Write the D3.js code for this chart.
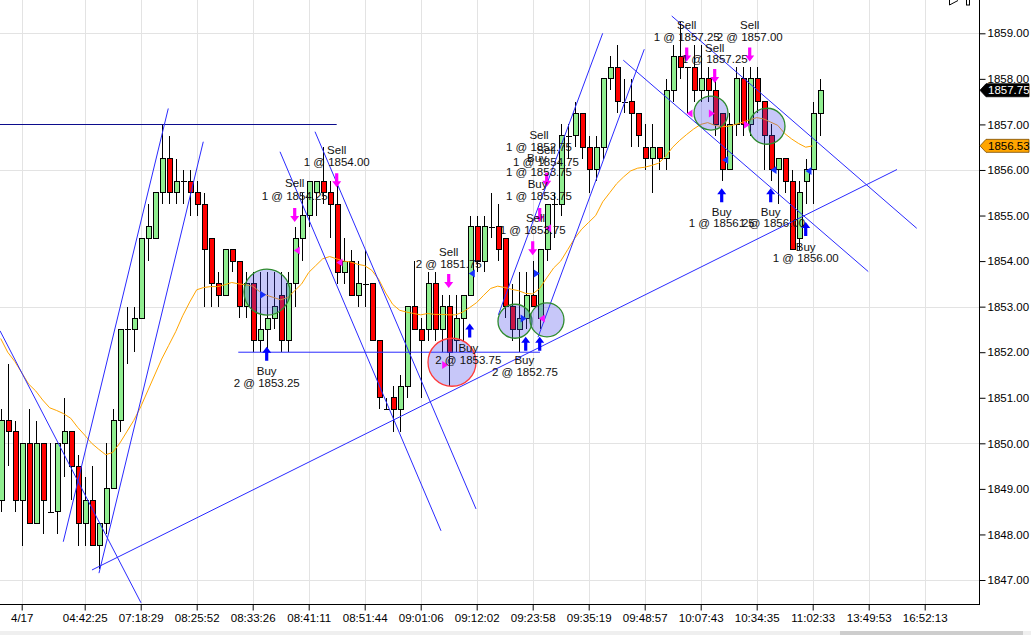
<!DOCTYPE html>
<html><head><meta charset="utf-8">
<script src="https://cdn.jsdelivr.net/npm/d3@7"></script>
<style>
html,body{margin:0;padding:0;background:#fff;}
svg{display:block;font-family:"Liberation Sans",Arial,sans-serif;}
</style></head>
<body><svg id="chart" width="1031" height="635"></svg>
<script>
// ---------------- DATA ----------------
const candleOpen = [1848.75,1850.5,1850.25,1848.75,1850,1848.25,1850,1848.5,1848.5,1850,1850.25,1849.5,1848.25,1848.75,1847.75,1848.25,1849,1850.5,1852.5,1852.5,1852.75,1854.5,1854.5,1855.5,1856.25,1855.5,1855.75,1855.75,1855.5,1855.25,1854.5,1853.5,1853.25,1854.25,1854,1853,1853.5,1852.25,1852.5,1852.75,1853.25,1852.25,1853.5,1854.5,1855,1855.5,1855.75,1855.5,1855.25,1853.75,1854,1853.25,1853.5,1853.5,1852.25,1850.75,1851,1850.75,1851.25,1853,1852.5,1852.5,1853.5,1852.5,1853,1852.25,1852.75,1853.25,1854.75,1854,1854.75,1854.75,1854.5,1853,1852.5,1852.75,1853.25,1852.75,1854.25,1855.25,1855.25,1856.75,1856.75,1857.25,1856.5,1856,1856.5,1858,1858.25,1857.5,1857.5,1857.25,1856.5,1856.25,1856.5,1856.25,1857.75,1858.5,1858.25,1858.25,1857.75,1858,1857.75,1857.25,1856,1857,1858,1857,1858,1857.5,1856.75,1856,1856.25,1855.75,1854.5,1855.75,1856,1857.25];
const candleHigh = [1850.75,1851.75,1850.5,1850,1850.75,1850.5,1850,1850,1850,1851,1850.25,1849.75,1849.25,1849.5,1848.25,1850,1850.75,1852.5,1853,1853,1854.5,1855.25,1855.5,1857,1856.75,1856.25,1856,1856,1855.75,1855.5,1854.5,1853.75,1854.25,1854.25,1854,1853.75,1853.75,1853.75,1853.75,1853.75,1853.75,1853.75,1854.75,1855.5,1855.75,1855.75,1856.5,1855.75,1855.75,1854.5,1854.25,1854,1854.25,1853.5,1852.25,1851,1851.25,1851.5,1853,1854,1852.75,1853.75,1853.75,1853.25,1853.25,1853.25,1853.25,1855,1855,1855,1855.5,1855.25,1854.5,1853.5,1853.75,1853.75,1854,1854.25,1855.25,1855.5,1857,1857,1857.5,1857.25,1856.75,1856.75,1858,1858.5,1858.75,1858,1858,1857.25,1857,1857,1856.5,1858,1858.75,1859.25,1858.25,1858.75,1858.75,1858.25,1858,1857.25,1857.25,1858.25,1858.25,1858.25,1858.25,1857.5,1857,1856.25,1856.25,1856,1855.75,1856.25,1857.5,1858];
const candleLow = [1848.5,1849.5,1848.5,1847.75,1848.25,1848.25,1848,1848.5,1848,1849.25,1848.75,1847.75,1847.75,1847.75,1847.25,1848,1849,1850.25,1851.75,1852,1852.75,1854,1854.5,1855.25,1855.25,1855.25,1855.25,1855,1855,1853,1853,1853,1853.25,1853.75,1852.75,1852.75,1852,1852,1852,1852.5,1852,1852,1853,1854,1854.75,1855,1855.25,1854.5,1853.5,1853.5,1853.25,1853,1853,1852.25,1850.75,1850.75,1850.25,1850.25,1851,1852.5,1851,1852.25,1852.25,1852,1851.25,1852,1852.25,1853.25,1853.75,1853.75,1854.5,1854,1852.75,1852.25,1852,1852.5,1853,1852.5,1854,1854.5,1855,1856.25,1856.5,1856.25,1855.5,1855.75,1856.25,1857.75,1857.25,1857.25,1856.5,1856.5,1856,1855.5,1856,1856,1857.5,1858,1857.25,1857.5,1857.5,1857.5,1856.75,1855.75,1856,1856.75,1856.75,1856.75,1857.25,1856,1855.75,1855.25,1855.5,1854.25,1854.25,1855.25,1855.25,1856.75];
const candleClose = [1850.5,1850.25,1848.75,1850,1848.25,1850,1848.75,1848.5,1850,1850.25,1849.5,1848.25,1848.75,1847.75,1848.25,1849,1850.5,1852.5,1852.5,1852.75,1854.5,1854.75,1855.5,1856.25,1855.5,1855.75,1855.75,1855.5,1855.25,1854.25,1853.5,1853.25,1854.25,1854,1853,1853.5,1852.25,1852.5,1852.75,1853,1852.25,1853.5,1854.5,1855,1855.75,1855.75,1855.5,1855.25,1853.75,1854,1853.25,1853.5,1853.5,1852.25,1851,1850.75,1850.75,1851.25,1853,1852.5,1852.25,1853.5,1852.5,1853,1852,1852.75,1853.25,1854.75,1854,1854.75,1854.75,1854.25,1853,1852.5,1852.75,1853.25,1853,1854.25,1855.25,1855.25,1856.75,1856.75,1857.25,1856.5,1856,1856.5,1858,1858.25,1857.5,1857.5,1857.25,1856.75,1856.25,1856.5,1856.25,1857.75,1858.5,1858.25,1858.25,1857.75,1858,1857.75,1857,1856,1857,1858,1857,1858,1857.5,1856.75,1856,1856.25,1855.75,1854.25,1855.5,1856,1857.25,1857.75];
const movingAvg = [1852.3,1852.0,1851.8,1851.55,1851.3,1851.15,1850.95,1850.78,1850.72,1850.65,1850.55,1850.35,1850.18,1850.0,1849.87,1849.75,1849.8,1850.0,1850.25,1850.5,1850.8,1851.15,1851.5,1851.85,1852.15,1852.45,1852.8,1853.1,1853.37,1853.42,1853.44,1853.44,1853.48,1853.53,1853.5,1853.48,1853.45,1853.33,1853.25,1853.2,1853.15,1853.2,1853.35,1853.5,1853.75,1853.9,1854.05,1854.1,1854.05,1854.0,1853.98,1853.93,1853.9,1853.8,1853.6,1853.3,1853.05,1852.92,1852.88,1852.85,1852.82,1852.85,1852.83,1852.83,1852.82,1852.82,1852.88,1852.98,1853.09,1853.25,1853.4,1853.45,1853.42,1853.38,1853.35,1853.29,1853.28,1853.4,1853.63,1853.85,1854.0,1854.25,1854.5,1854.7,1854.85,1855.0,1855.3,1855.5,1855.7,1855.85,1855.98,1856.04,1856.06,1856.1,1856.15,1856.3,1856.5,1856.65,1856.78,1856.9,1857.0,1857.04,1856.98,1856.95,1856.96,1857.0,1857.05,1857.1,1857.15,1857.12,1857.05,1856.98,1856.8,1856.68,1856.58,1856.5,1856.53];

const timeTickIdx = [3,12,20,28,36,44,52,60,68,76,84,92,100,108,116,124,132];
const timeTickLabels = ["4/17","04:42:25","07:18:29","08:25:52","08:33:26","08:41:11","08:51:44","09:01:06","09:12:02","09:23:58","09:35:19","09:48:57","10:07:43","10:34:35","11:02:33","13:49:53","16:52:13"];
const priceTicks = [1847,1848,1849,1850,1851,1852,1853,1854,1855,1856,1857,1858,1859];
const priceGrid = [1847,1850,1853,1856,1859];

const lastPrice = 1857.75;
const maLast = 1856.53;

// drawn objects: [idx1, price1, idx2, price2]
const trendLines = [
  [-0.1,1852.47,20.04,1846.5],
  [8.94,1847.84,23.94,1857.35],
  [14.04,1847.15,28.94,1856.62],
  [13.04,1847.22,128.04,1856.01],
  [39.9,1856.4,62.9,1848.08],
  [44.9,1856.84,67.9,1848.56],
  [71.09,1852.82,86.0,1859.0],
  [76.76,1852.33,91.94,1858.65],
  [95.86,1859.38,130.86,1854.72],
  [88.94,1858.41,123.94,1853.77],
  [33.94,1852.0,77.04,1852.0]
];
const levelLine = [-0.1,1857.0,48.0,1857.0];

// circles: idx, price, kind
const circleIdx = [38.04,64.47,73.47,78.04,101.47,109.47];
const circlePrice = [1853.32,1851.78,1852.68,1852.71,1857.25,1856.96];
const circleKind = ["win","loss","win","win","win","win"];

// entry arrows
const buyIdx = [38,67,75,77,103,110,115];
const buyPrice = [1852.12,1852.63,1852.34,1852.34,1855.6,1855.6,1854.86];
const sellIdx = [42,48,64,76,77,78,98,102,107];
const sellPrice = [1854.86,1855.62,1853.41,1854.13,1854.86,1855.63,1858.38,1857.91,1858.38];

// fill markers: idx, price, side (buy/sell), direction
const fillIdx = [37.5,42.3,48.4,63.5,67.3,74.7,76.6,77.3,78.2,98.4,101.6,103.5,106.6,110.4,115.4];
const fillPrice = [1853.26,1854.23,1853.97,1851.72,1853.73,1852.74,1853.73,1852.74,1854.72,1857.24,1857.24,1856.22,1856.99,1856.0,1855.98];
const fillSide = ["buy","sell","sell","sell","buy","buy","buy","sell","sell","sell","sell","buy","sell","buy","buy"];
const fillDir = ["right","left","left","right","left","right","right","left","left","left","right","left","right","left","left"];

// text labels
const noteIdx = [48,48,42,42,38,38,64,64,66.8,66.8,74.8,74.9,76.9,76.9,77.9,77.9,76.6,76.9,76.7,76.9,76.4,76.0,98,98,107,107,102,102,103,103,110,110.2,115,115];
const notePrice = [1856.44,1856.18,1855.71,1855.43,1851.59,1851.32,1854.21,1853.94,1852.09,1851.83,1851.83,1851.57,1856.77,1856.51,1856.44,1856.18,1856.26,1855.96,1855.69,1855.43,1854.94,1854.68,1859.18,1858.93,1859.18,1858.93,1858.69,1858.43,1855.08,1854.83,1855.08,1854.83,1854.32,1854.07];
const noteText = ["Sell","1 @ 1854.00","Sell","1 @ 1854.25","Buy","2 @ 1853.25","Sell","2 @ 1851.75","Buy","2 @ 1853.75","Buy","2 @ 1852.75","Sell","1 @ 1852.75","Sell","1 @ 1854.75","Buy","1 @ 1853.75","Buy","1 @ 1853.75","Sell","1 @ 1853.75","Sell","1 @ 1857.25","Sell","2 @ 1857.00","Sell","1 @ 1857.25","Buy","1 @ 1856.25","Buy","1 @ 1856.00","Buy","1 @ 1856.00"];

// ---------------- LAYOUT ----------------
const W = 1031, H = 635;
const plotR = 979, plotB = 604;
const svg = d3.select("#chart");
const x = d3.scaleLinear().domain([0, 132]).range([0.7, 924.7]);
const y = d3.scaleLinear().domain([1847, 1859]).range([580, 33.3]);

svg.append("rect").attr("width", W).attr("height", H).attr("fill", "#fff");
svg.append("defs").append("clipPath").attr("id", "plotClip")
  .append("rect").attr("x", 0).attr("y", 0).attr("width", plotR).attr("height", plotB);

const grid = svg.append("g").attr("shape-rendering", "crispEdges");
grid.selectAll("line.v").data(timeTickIdx).join("line")
  .attr("x1", d => Math.round(x(d)) + 0.5).attr("x2", d => Math.round(x(d)) + 0.5)
  .attr("y1", 0).attr("y2", plotB).attr("stroke", "#e3e3e3");
grid.selectAll("line.h").data(priceGrid).join("line")
  .attr("x1", 0).attr("x2", plotR)
  .attr("y1", d => Math.round(y(d)) + 0.5).attr("y2", d => Math.round(y(d)) + 0.5)
  .attr("stroke", "#e3e3e3");

const plot = svg.append("g").attr("clip-path", "url(#plotClip)");

// candles
const candles = d3.range(candleOpen.length).map(i => ({
  i, o: candleOpen[i], h: candleHigh[i], l: candleLow[i], c: candleClose[i]
}));
const cg = plot.append("g").attr("shape-rendering", "crispEdges");
const cx = d => Math.round(x(d.i)) + 0.5;
cg.selectAll("line.wick").data(candles).join("line")
  .attr("x1", cx).attr("x2", cx)
  .attr("y1", d => y(d.h)).attr("y2", d => y(d.l))
  .attr("stroke", "#000");
cg.selectAll("rect.body").data(candles.filter(d => d.o !== d.c)).join("rect")
  .attr("x", d => cx(d) - 2.5).attr("width", 5)
  .attr("y", d => y(Math.max(d.o, d.c)))
  .attr("height", d => Math.max(1, y(Math.min(d.o, d.c)) - y(Math.max(d.o, d.c))))
  .attr("fill", d => d.c > d.o ? "#90ee90" : "#ff0000")
  .attr("stroke", "#000").attr("stroke-width", 1);
cg.selectAll("line.doji").data(candles.filter(d => d.o === d.c)).join("line")
  .attr("x1", d => cx(d) - 3).attr("x2", d => cx(d) + 3)
  .attr("y1", d => Math.round(y(d.o)) + 0.5).attr("y2", d => Math.round(y(d.o)) + 0.5)
  .attr("stroke", "#000");

// moving average
plot.append("path")
  .datum(movingAvg.map((v, i) => [i, v]))
  .attr("fill", "none").attr("stroke", "#ffa500").attr("stroke-width", 1)
  .attr("d", d3.line().x(d => x(d[0])).y(d => y(d[1])));

// level line and trend lines
plot.append("line")
  .attr("x1", x(levelLine[0])).attr("y1", Math.round(y(levelLine[1])) + 0.5)
  .attr("x2", x(levelLine[2])).attr("y2", Math.round(y(levelLine[3])) + 0.5)
  .attr("stroke", "#0c0c8c").attr("stroke-width", 1);
plot.selectAll("line.trend").data(trendLines).join("line")
  .attr("x1", d => x(d[0])).attr("y1", d => y(d[1]))
  .attr("x2", d => x(d[2])).attr("y2", d => y(d[3]))
  .attr("stroke", "#2a2aff").attr("stroke-width", 1);

// circles
const circleR = [23, 24, 17, 17, 17, 18];
plot.selectAll("circle.trade").data(circleIdx).join("circle")
  .attr("cx", (d, k) => x(d)).attr("cy", (d, k) => y(circlePrice[k]))
  .attr("r", (d, k) => circleR[k])
  .attr("fill", "rgba(70,70,235,0.30)")
  .attr("stroke", (d, k) => circleKind[k] === "win" ? "#2e8b2e" : "#ff3a3a")
  .attr("stroke-width", 1.3);

// buy / sell arrows
const upArrow = "M0,0 L4.5,6 L1.6,6 L1.6,14 L-1.6,14 L-1.6,6 L-4.5,6 Z";
plot.selectAll("path.buy").data(buyIdx).join("path")
  .attr("d", upArrow)
  .attr("transform", (d, k) => `translate(${x(d)},${y(buyPrice[k])})`)
  .attr("fill", "#0000ff");
plot.selectAll("path.sell").data(sellIdx).join("path")
  .attr("d", upArrow)
  .attr("transform", (d, k) => `translate(${x(d)},${y(sellPrice[k])}) scale(1,-1)`)
  .attr("fill", "#ff00ff");

// fill markers
plot.selectAll("path.fill").data(fillIdx).join("path")
  .attr("d", (d, k) => fillDir[k] === "right" ? "M-3,-4 L3,0 L-3,4 Z" : "M3,-4 L-3,0 L3,4 Z")
  .attr("transform", (d, k) => `translate(${x(d)},${y(fillPrice[k])})`)
  .attr("fill", (d, k) => fillSide[k] === "buy" ? "#1530ff" : "#ff10ff");

// text notes
svg.append("g").selectAll("text").data(noteText).join("text")
  .attr("x", (d, k) => x(noteIdx[k])).attr("y", (d, k) => y(notePrice[k]))
  .attr("dy", "0.36em").attr("text-anchor", "middle")
  .attr("font-size", 11.5).attr("fill", "#111").text(d => d);

// axes
const ax = svg.append("g");
ax.append("line").attr("x1", plotR + 0.5).attr("x2", plotR + 0.5).attr("y1", 0).attr("y2", plotB + 0.5)
  .attr("stroke", "#000").attr("shape-rendering", "crispEdges");
ax.append("line").attr("x1", 0).attr("x2", plotR + 0.5).attr("y1", plotB + 0.5).attr("y2", plotB + 0.5)
  .attr("stroke", "#000").attr("shape-rendering", "crispEdges");

const yAxis = svg.append("g").attr("transform", `translate(${plotR + 0.5},0)`)
  .call(d3.axisRight(y).tickValues(priceTicks).tickFormat(d3.format(".2f")).tickSize(6).tickPadding(2));
yAxis.select(".domain").remove();
yAxis.selectAll("text").attr("font-size", 11.5).attr("fill", "#000").attr("font-family", "Liberation Sans, Arial, sans-serif");
yAxis.selectAll("line").attr("stroke", "#000");

const xAxis = svg.append("g").attr("transform", `translate(0,${plotB + 0.5})`)
  .call(d3.axisBottom(x).tickValues(timeTickIdx).tickFormat((d, k) => timeTickLabels[k]).tickSize(6).tickPadding(3));
xAxis.select(".domain").remove();
xAxis.selectAll("text").attr("font-size", 11.5).attr("fill", "#000").attr("font-family", "Liberation Sans, Arial, sans-serif");
xAxis.selectAll("line").attr("stroke", "#000");

// price markers
function marker(price, fill, textFill, stroke) {
  const yy = y(price);
  const g = svg.append("g").attr("transform", `translate(${plotR + 1},${yy})`);
  g.append("path").attr("d", "M0,0 L6,-6.5 L49,-6.5 L49,6.5 L6,6.5 Z")
    .attr("fill", fill).attr("stroke", stroke).attr("stroke-width", 0.8);
  g.append("text").attr("x", 8).attr("dy", "0.36em").attr("font-size", 11.5)
    .attr("fill", textFill).text(d3.format(".2f")(price));
}
marker(maLast, "#ffa500", "#000", "#7a4a00");
marker(lastPrice, "#000", "#fff", "#000");

// scrollbar and corner glyph
svg.append("rect").attr("x", 0).attr("y", 631).attr("width", W).attr("height", 4).attr("fill", "#efefef");
svg.append("rect").attr("x", 840).attr("y", 631).attr("width", 183).attr("height", 4).attr("fill", "#cdcdcd");
svg.append("path").attr("d", "M949.5,0 L949.5,5 L958,0.5").attr("fill", "none").attr("stroke", "#000");
svg.append("rect").attr("x", 966.5).attr("y", -1).attr("width", 3).attr("height", 6).attr("fill", "none").attr("stroke", "#000");
</script>
</body></html>
